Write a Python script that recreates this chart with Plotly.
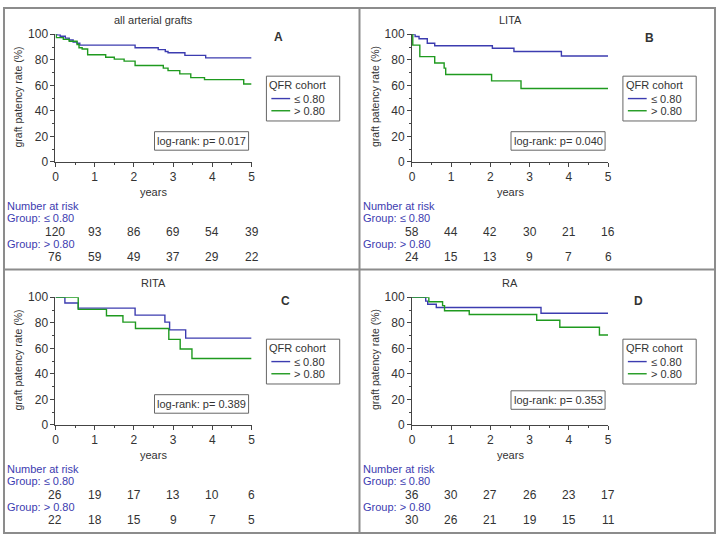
import plotly.graph_objects as go

W, H = 720, 541

# ---------------- data ----------------
panel_titles = ["all arterial grafts", "LITA", "RITA", "RA"]
panel_letters = ["A", "B", "C", "D"]
p_values = ["0.017", "0.040", "0.389", "0.353"]
group_labels = ["≤ 0.80", "> 0.80"]

# Kaplan-Meier step data (years, patency %)
a_low_t = [0, 0.05, 0.12, 0.25, 0.35, 0.45, 0.55, 0.62, 2.03, 2.62, 2.8, 2.87, 3.3, 3.83, 5]
a_low_s = [100, 99.5, 98.5, 97, 95.5, 94, 93, 91.5, 89.5, 88, 86.5, 85.5, 83.5, 81.5, 81.5]
a_high_t = [0, 0.02, 0.2, 0.35, 0.55, 0.6, 0.68, 0.82, 1.28, 1.5, 1.75, 2.03, 2.75, 2.87, 3.17, 3.45, 3.8, 4.8, 5]
a_high_s = [100, 97.4, 96, 94.5, 92, 89.5, 88.5, 84, 82, 80.5, 79, 75.5, 73.5, 71.5, 69, 66, 64.5, 61, 61]

b_low_t = [0, 0.08, 0.18, 0.39, 0.58, 2.05, 2.6, 3.81, 5]
b_low_s = [100, 98.3, 96.5, 93, 91, 89, 86.5, 83, 83]
b_high_t = [0, 0.02, 0.2, 0.58, 0.82, 0.86, 2.03, 2.78, 5]
b_high_s = [100, 91.5, 82.5, 77.5, 73.5, 68.5, 63.5, 57.5, 57.5]

c_low_t = [0, 0.24, 0.58, 2.03, 2.79, 2.91, 3.32, 5]
c_low_s = [100, 95.5, 91.5, 86, 80.5, 74.5, 68, 68]
c_high_t = [0, 0.58, 1.3, 1.72, 2.04, 2.89, 3.18, 3.48, 5]
c_high_s = [100, 90.5, 85.5, 80.5, 75.5, 67, 59.5, 52, 52]

d_low_t = [0, 0.35, 0.4, 0.62, 3.29, 5]
d_low_s = [100, 97, 94.5, 92, 87.5, 87.5]
d_high_t = [0, 0.43, 0.78, 0.83, 1.46, 3.18, 3.77, 4.78, 5]
d_high_s = [100, 96.5, 93.5, 89.5, 86.5, 82, 76.5, 70.5, 70.5]

risk_times = [0, 1, 2, 3, 4, 5]
a_risk_low = [120, 93, 86, 69, 54, 39]
a_risk_high = [76, 59, 49, 37, 29, 22]
b_risk_low = [58, 44, 42, 30, 21, 16]
b_risk_high = [24, 15, 13, 9, 7, 6]
c_risk_low = [26, 19, 17, 13, 10, 6]
c_risk_high = [22, 18, 15, 9, 7, 5]
d_risk_low = [36, 30, 27, 26, 23, 17]
d_risk_high = [30, 26, 21, 19, 15, 11]

x_ticks = [0, 1, 2, 3, 4, 5]
y_ticks = [0, 20, 40, 60, 80, 100]

curves = [
    ((a_low_t, a_low_s), (a_high_t, a_high_s)),
    ((b_low_t, b_low_s), (b_high_t, b_high_s)),
    ((c_low_t, c_low_s), (c_high_t, c_high_s)),
    ((d_low_t, d_low_s), (d_high_t, d_high_s)),
]
risks = [
    (a_risk_low, a_risk_high),
    (b_risk_low, b_risk_high),
    (c_risk_low, c_risk_high),
    (d_risk_low, d_risk_high),
]

# ---------------- style ----------------
BLUE = "#3c3cb0"
GREEN = "#1f9a1f"
TXT = "#333333"
AX = "#444444"
FONT = "Arial, Liberation Sans, sans-serif"

def fx(px):
    return px / W

def fy(py):
    return 1 - py / H

# panel offsets (px)
offsets = [(0, 0), (360, 0), (0, 270), (360, 270)]
letter_pos = [(278, 31), (653, 32), (285, 302), (642, 302)]
logrank_box = [(153, 128, 248, 147), (153, 128, 248, 147), (153, 128, 248, 147), (153, 124, 248, 143)]

fig = go.Figure()
annotations = []
shapes = []
layout_axes = {}

for i in range(4):
    ox, oy = offsets[i]
    xa = "x" if i == 0 else f"x{i+1}"
    ya = "y" if i == 0 else f"y{i+1}"
    xkey = "xaxis" if i == 0 else f"xaxis{i+1}"
    ykey = "yaxis" if i == 0 else f"yaxis{i+1}"

    x0p, x1p = ox + 53, ox + 251
    y0p, y1p = oy + 28, oy + 159

    layout_axes[xkey] = dict(
        domain=[fx(x0p), fx(x1p)], anchor=ya, range=[0, 5],
        tickvals=x_ticks, ticks="outside", ticklen=4, tickcolor=AX,
        showline=True, linecolor=AX, linewidth=1, showgrid=False, zeroline=False,
        tickfont=dict(size=12, color=TXT, family=FONT),
        minor=dict(dtick=0.5, ticks="outside", ticklen=2, tickcolor=AX, showgrid=False),
        fixedrange=True,
    )
    layout_axes[ykey] = dict(
        domain=[fy(y1p), fy(y0p)], anchor=xa, range=[0, 100],
        tickvals=y_ticks, ticks="outside", ticklen=4, tickcolor=AX,
        showline=True, linecolor=AX, linewidth=1, showgrid=False, zeroline=False,
        tickfont=dict(size=12, color=TXT, family=FONT),
        minor=dict(dtick=10, ticks="outside", ticklen=2, tickcolor=AX, showgrid=False),
        fixedrange=True,
    )

    (lt, ls), (ht, hs) = curves[i]
    fig.add_trace(go.Scatter(x=lt, y=ls, mode="lines", line=dict(color=BLUE, width=1.4, shape="hv"),
                             xaxis=xa, yaxis=ya, showlegend=False, name=group_labels[0]))
    fig.add_trace(go.Scatter(x=ht, y=hs, mode="lines", line=dict(color=GREEN, width=1.4, shape="hv"),
                             xaxis=xa, yaxis=ya, showlegend=False, name=group_labels[1]))

    # title
    annotations.append(dict(x=fx(ox + 152), y=fy(oy + 13), xref="paper", yref="paper",
                            text=panel_titles[i], showarrow=False, xanchor="center", yanchor="middle",
                            font=dict(size=11, color=TXT, family=FONT)))
    # letter
    lx, ly = letter_pos[i]
    annotations.append(dict(x=fx(lx), y=fy(ly), xref="paper", yref="paper",
                            text=f"<b>{panel_letters[i]}</b>", showarrow=False, xanchor="center", yanchor="middle",
                            font=dict(size=12, color=TXT, family=FONT)))
    # x title
    annotations.append(dict(x=fx(ox + 152), y=fy(oy + 190), xref="paper", yref="paper",
                            text="years", showarrow=False, xanchor="center", yanchor="middle",
                            font=dict(size=11, color=TXT, family=FONT)))
    # y title
    annotations.append(dict(x=fx(ox + 15), y=fy(oy + 92), xref="paper", yref="paper",
                            text="graft patency rate (%)", showarrow=False, textangle=-90,
                            xanchor="center", yanchor="middle",
                            font=dict(size=10.5, color=TXT, family=FONT)))

    # legend box
    shapes.append(dict(type="rect", xref="paper", yref="paper",
                       x0=fx(ox + 266), x1=fx(ox + 340), y0=fy(oy + 71), y1=fy(oy + 117),
                       line=dict(color="#666666", width=1), fillcolor="white", layer="above"))
    annotations.append(dict(x=fx(ox + 267), y=fy(oy + 80.5), xref="paper", yref="paper",
                            text="QFR cohort", showarrow=False, xanchor="left", yanchor="middle",
                            font=dict(size=11, color=TXT, family=FONT)))
    for k, (col, yy) in enumerate([(BLUE, 94), (GREEN, 106.5)]):
        shapes.append(dict(type="line", xref="paper", yref="paper",
                           x0=fx(ox + 271), x1=fx(ox + 290), y0=fy(oy + yy), y1=fy(oy + yy),
                           line=dict(color=col, width=1.4), layer="above"))
        annotations.append(dict(x=fx(ox + 292), y=fy(oy + yy), xref="paper", yref="paper",
                                text=group_labels[k], showarrow=False, xanchor="left", yanchor="middle",
                                font=dict(size=11, color=TXT, family=FONT)))

    # log-rank box
    bx0, by0, bx1, by1 = logrank_box[i]
    shapes.append(dict(type="rect", xref="paper", yref="paper",
                       x0=fx(ox + bx0), x1=fx(ox + bx1), y0=fy(oy + by0), y1=fy(oy + by1),
                       line=dict(color="#666666", width=1), fillcolor="white", layer="above"))
    annotations.append(dict(x=fx(ox + (bx0 + bx1) / 2), y=fy(oy + (by0 + by1) / 2), xref="paper", yref="paper",
                            text=f"log-rank: p= {p_values[i]}", showarrow=False, xanchor="center", yanchor="middle",
                            font=dict(size=11, color=TXT, family=FONT)))

    # number at risk table
    for txt, yy in [("Number at risk", 204), ("Group: " + group_labels[0], 217), ("Group: " + group_labels[1], 243)]:
        annotations.append(dict(x=fx(ox + 2), y=fy(oy + yy), xref="paper", yref="paper",
                                text=txt, showarrow=False, xanchor="left", yanchor="middle",
                                font=dict(size=11, color=BLUE, family=FONT)))
    rl, rh = risks[i]
    for row, yy in [(rl, 231), (rh, 257)]:
        for t, n in zip(risk_times, row):
            annotations.append(dict(x=t, y=fy(oy + yy), xref=xa, yref="paper",
                                    text=str(n), showarrow=False, xanchor="center", yanchor="middle",
                                    font=dict(size=12, color=TXT, family=FONT)))

# panel borders
BORDER = "#8c8c8c"
shapes.append(dict(type="rect", xref="paper", yref="paper", x0=fx(1), x1=fx(719), y0=fy(1), y1=fy(540),
                   line=dict(color=BORDER, width=2)))
shapes.append(dict(type="line", xref="paper", yref="paper", x0=fx(360), x1=fx(360), y0=fy(0), y1=fy(541),
                   line=dict(color=BORDER, width=2)))
shapes.append(dict(type="line", xref="paper", yref="paper", x0=fx(0), x1=fx(720), y0=fy(269.5), y1=fy(269.5),
                   line=dict(color=BORDER, width=2)))

fig.update_layout(
    width=W, height=H, margin=dict(l=0, r=0, t=0, b=0),
    paper_bgcolor="white", plot_bgcolor="white",
    annotations=annotations, shapes=shapes, showlegend=False,
    font=dict(family=FONT, size=11, color=TXT),
    **layout_axes,
)

fig.write_html("out.html", config={"displayModeBar": False})
